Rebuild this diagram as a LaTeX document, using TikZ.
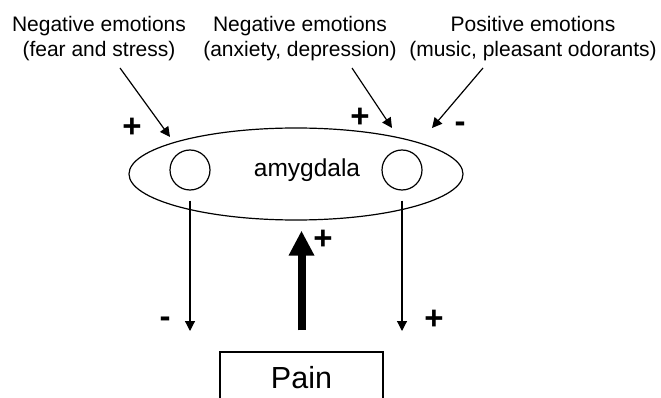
\documentclass[tikz,border=0pt]{standalone}
\usepackage{fontspec}
\setmainfont{Liberation Sans}
\usetikzlibrary{shapes.geometric,arrows.meta}
\begin{document}
\begin{tikzpicture}[x=1pt,y=-1pt,
  lbl/.style={align=center,font=\fontsize{21}{25}\selectfont,inner sep=0pt},
  sgn/.style={font=\fontsize{33}{33}\selectfont\bfseries,inner sep=0pt},
  arr/.style={line width=1.2pt,-{Triangle[length=10pt,width=10pt]}},
  bigarr/.style={line width=8pt,-{Triangle[length=25pt,width=24pt]}},
  ring/.style={draw,line width=1.2pt,circle,minimum size=40pt,inner sep=0pt}]
\useasboundingbox (0,0) rectangle (661,398);
\clip (0,0) rectangle (661,398);
% labels
\node[lbl] (neg1) at (99,39) {Negative emotions\\(fear and stress)};
\node[lbl] (neg2) at (300,39) {Negative emotions\\(anxiety, depression)};
\node[lbl] (pos) at (533,39) {Positive emotions\\(music, pleasant odorants)};
% amygdala
\node[draw,ellipse,line width=1.2pt,minimum width=334pt,minimum height=92pt,inner sep=0pt] (amyg) at (296,174) {};
\node[font=\fontsize{24.5}{28}\selectfont,inner sep=0pt] (amytext) at (307,170) {amygdala};
\node[ring] (lc) at (190,170) {};
\node[ring] (rc) at (402,170) {};
% pain
\node[draw,line width=1.2pt,minimum width=163pt,minimum height=52pt,inner sep=0pt,font=\fontsize{30.5}{34}\selectfont] (pain) at (301.5,378) {Pain};
% coordinates
\coordinate (s1) at (120,68);
\coordinate (e1) at (170,137);
\coordinate (s2) at (352,68);
\coordinate (e2) at (392,128);
\coordinate (s3) at (483,68);
\coordinate (e3) at (432,128);
\coordinate (lend) at (190,331);
\coordinate (rend) at (402,331);
% connectors
\draw[arr] (s1) -- (e1);
\draw[arr] (s2) -- (e2);
\draw[arr] (s3) -- (e3);
\draw[arr] ([yshift=-10pt]lc.south) -- (lend);
\draw[arr] ([yshift=-10pt]rc.south) -- (rend);
\draw[bigarr,shorten <=21pt,shorten >=10pt] (pain.north) -- (pain.north |- amyg.south);
% signs
\node[sgn] (p1) at (132,128) {+};
\node[sgn] (p2) at (360,118) {+};
\node[sgn] (m1) at (460,127) {-};
\node[sgn] (p3) at (323,240) {+};
\node[sgn] (m2) at (165,322) {-};
\node[sgn] (p4) at (434,320) {+};
\end{tikzpicture}
\end{document}
